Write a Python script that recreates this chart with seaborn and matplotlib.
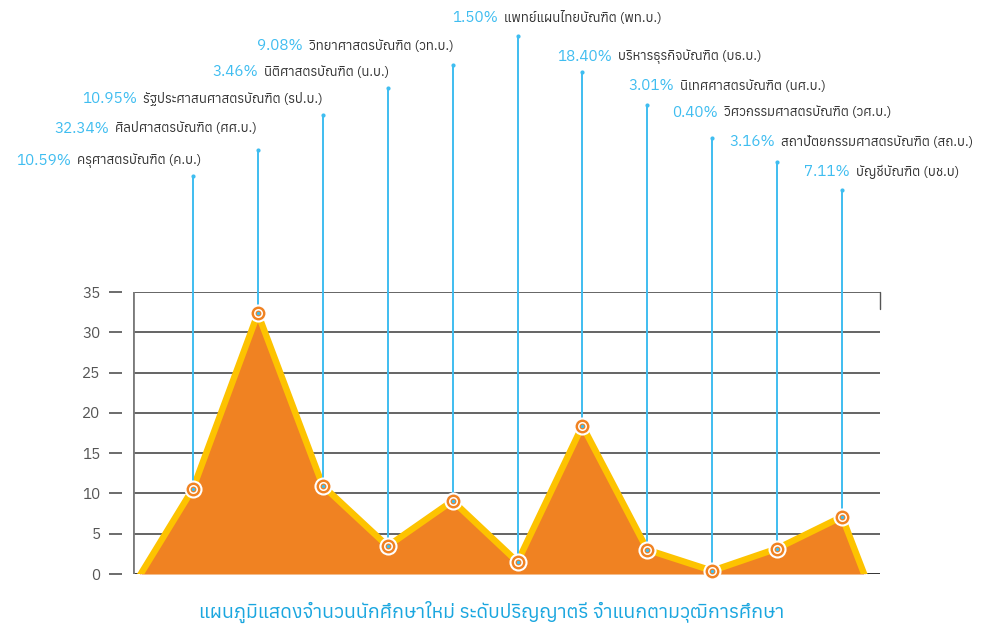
import numpy as np
import matplotlib
matplotlib.use("Agg")
import matplotlib.pyplot as plt
import seaborn as sns

# ข้อมูล: ร้อยละนักศึกษาใหม่ จำแนกตามวุฒิการศึกษา
programs = ["ครุศาสตรบัณฑิต (ค.บ.)", "ศิลปศาสตรบัณฑิต (ศศ.บ.)", "รัฐประศาสนศาสตรบัณฑิต (รป.บ.)",
            "นิติศาสตรบัณฑิต (น.บ.)", "วิทยาศาสตรบัณฑิต (วท.บ.)", "แพทย์แผนไทยบัณฑิต (พท.บ.)",
            "บริหารธุรกิจบัณฑิต (บธ.บ.)", "นิเทศศาสตรบัณฑิต (นศ.บ.)", "วิศวกรรมศาสตรบัณฑิต (วศ.บ.)",
            "สถาปัตยกรรมศาสตรบัณฑิต (สถ.บ.)", "บัญชีบัณฑิต (บช.บ)"]
percent = [10.59, 32.34, 10.95, 3.46, 9.08, 1.50, 18.40, 3.01, 0.40, 3.16, 7.11]
y_ticks = [0, 5, 10, 15, 20, 25, 30, 35]
title = "แผนภูมิแสดงจำนวนนักศึกษาใหม่ ระดับปริญญาตรี จำแนกตามวุฒิการศึกษา"

# layout (pixels in the 985x629 picture)
edge_pad = (-0.82, 0.35)   # area starts/ends this far from the first/last point
line_top_px = [176, 150, 115, 88, 65, 36, 72, 105, 138, 162, 190]
pct_end_px = [71, 109, 137, 258, 303, 498, 612, 674, 718, 775, 850]
label_y_px = [161, 129, 99, 72, 46, 18, 57, 86, 113, 142, 172]

W, H = 985, 629

sns.set_style("white")
plt.rcParams["font.family"] = ["Anuphan", "Noto Sans Thai", "DejaVu Sans"]

fig = plt.figure(figsize=(W / 100, H / 100), dpi=100)
ax = fig.add_axes([133 / W, 1 - 574 / H, (880 - 133) / W, (574 - 292) / H])

orange = "#f08222"
yellow = "#fdc300"
blue = "#3fbdf0"

idx = np.arange(len(percent))
area_x = np.concatenate([[edge_pad[0]], idx, [idx[-1] + edge_pad[1]]])
area_y = np.concatenate([[-0.2], percent, [-0.2]])

ax.set_xlim(-0.924, 10.585)
ax.set_ylim(0, 35)

for t in y_ticks[1:]:
    ax.axhline(t, color="#3a3a3a", lw=1.1, zorder=1)
ax.axhline(0, color="#111111", lw=1.2, zorder=1)
ax.axvline(-0.924, color="#7a7a7a", lw=2, zorder=1)
ax.plot([1, 1], [1, 0.94], transform=ax.transAxes, color="#555555", lw=1, clip_on=False)

# soft shadow + area
ax.fill_between(area_x + 0.06, np.array(area_y) - 0.6, 0, color="#000000", alpha=0.06, lw=0, zorder=2)
ax.fill_between(area_x, area_y, 0, color=orange, lw=0, zorder=2)
sns.lineplot(x=area_x, y=area_y, ax=ax, color=yellow, lw=4.6, zorder=3, sort=False,
             solid_joinstyle="miter", solid_capstyle="butt")

# vertical leader lines up to the labels
disp_to_data = ax.transData.inverted()
for i, v in enumerate(percent):
    top = disp_to_data.transform((0, H - line_top_px[i]))[1]
    ax.plot([i, i], [v, top], color=blue, lw=1.4, zorder=4, clip_on=False)
    ax.scatter([i], [top], s=9, color=blue, zorder=4, clip_on=False, linewidths=0)

# target markers
for s, c in [(170, "white"), (100, orange), (42, "white"), (18, orange), (6, blue)]:
    sns.scatterplot(x=idx, y=percent, ax=ax, s=s, color=c, linewidth=0, zorder=5, clip_on=False, legend=False)

ax.set_yticks(y_ticks)
ax.set_xticks([])
ax.spines["left"].set_position(("outward", 7.9))
for sp in ["left", "top", "right", "bottom"]:
    ax.spines[sp].set_color("none")
ax.tick_params(axis="y", direction="out", length=9.4, width=1.1, color="#444444",
               labelsize=11, labelcolor="#555555", pad=6, left=True)

# labels
for i, name in enumerate(programs):
    xe = pct_end_px[i] / W
    yy = 1 - label_y_px[i] / H
    fig.text(xe, yy, f"{percent[i]:.2f}%", color=blue, fontsize=11, ha="right", va="center")
    fig.text(xe + 6 / W, yy, name, color="#333333", fontsize=9.5, ha="left", va="center")

fig.text(492 / W, 1 - 612 / H, title, color="#1aa6df", fontsize=14, ha="center", va="center")

fig.savefig("out.png", dpi=100)
